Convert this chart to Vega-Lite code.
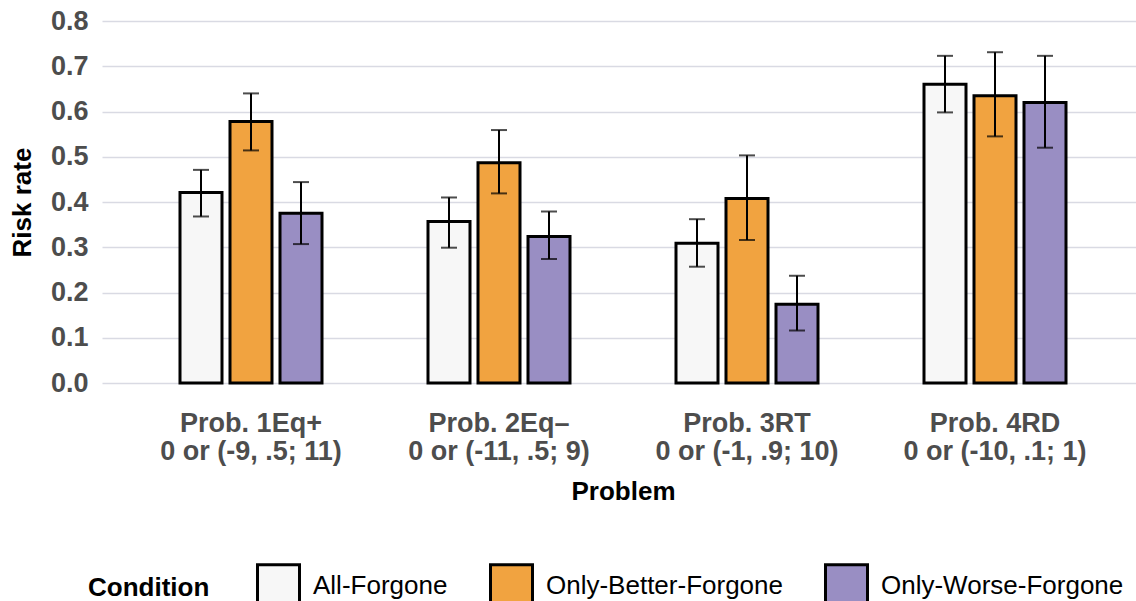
{
  "$schema": "https://vega.github.io/schema/vega-lite/v6.json",
  "width": 1034,
  "height": 362,
  "autosize": {"type": "none"},
  "padding": {"left": 102, "top": 21, "right": 0, "bottom": 218},
  "background": "white",
  "config": {
    "font": "Liberation Sans",
    "view": {"stroke": null},
    "axis": {"labelFont": "Liberation Sans", "titleFont": "Liberation Sans"},
    "legend": {"labelFont": "Liberation Sans", "titleFont": "Liberation Sans"}
  },
  "data": {
    "values": [
      {"Problem": "Prob. 1Eq+\n0 or (-9, .5; 11)", "Condition": "All-Forgone", "rate": 0.421, "lo": 0.368, "hi": 0.471},
      {"Problem": "Prob. 1Eq+\n0 or (-9, .5; 11)", "Condition": "Only-Better-Forgone", "rate": 0.578, "lo": 0.514, "hi": 0.640},
      {"Problem": "Prob. 1Eq+\n0 or (-9, .5; 11)", "Condition": "Only-Worse-Forgone", "rate": 0.375, "lo": 0.307, "hi": 0.444},
      {"Problem": "Prob. 2Eq–\n0 or (-11, .5; 9)", "Condition": "All-Forgone", "rate": 0.357, "lo": 0.299, "hi": 0.410},
      {"Problem": "Prob. 2Eq–\n0 or (-11, .5; 9)", "Condition": "Only-Better-Forgone", "rate": 0.487, "lo": 0.419, "hi": 0.559},
      {"Problem": "Prob. 2Eq–\n0 or (-11, .5; 9)", "Condition": "Only-Worse-Forgone", "rate": 0.324, "lo": 0.274, "hi": 0.379},
      {"Problem": "Prob. 3RT\n0 or (-1, .9; 10)", "Condition": "All-Forgone", "rate": 0.309, "lo": 0.257, "hi": 0.362},
      {"Problem": "Prob. 3RT\n0 or (-1, .9; 10)", "Condition": "Only-Better-Forgone", "rate": 0.408, "lo": 0.316, "hi": 0.503},
      {"Problem": "Prob. 3RT\n0 or (-1, .9; 10)", "Condition": "Only-Worse-Forgone", "rate": 0.174, "lo": 0.116, "hi": 0.237},
      {"Problem": "Prob. 4RD\n0 or (-10, .1; 1)", "Condition": "All-Forgone", "rate": 0.660, "lo": 0.598, "hi": 0.723},
      {"Problem": "Prob. 4RD\n0 or (-10, .1; 1)", "Condition": "Only-Better-Forgone", "rate": 0.635, "lo": 0.545, "hi": 0.731},
      {"Problem": "Prob. 4RD\n0 or (-10, .1; 1)", "Condition": "Only-Worse-Forgone", "rate": 0.620, "lo": 0.520, "hi": 0.723}
    ]
  },
  "encoding": {
    "x": {
      "field": "Problem",
      "type": "nominal",
      "sort": null,
      "scale": {"paddingInner": 0.4274, "paddingOuter": 0.3145, "range": [0, 1042]},
      "axis": {
        "title": "Problem",
        "labelAngle": 0,
        "labelExpr": "split(datum.label, '\\n')",
        "labelFontSize": 27,
        "labelFontWeight": "bold",
        "labelColor": "#4d4d4d",
        "labelLineHeight": 28.5,
        "labelPadding": 27,
        "labelLimit": 0,
        "ticks": false,
        "domain": false,
        "titleFontSize": 26,
        "titleFontWeight": "bold",
        "titleColor": "black",
        "titlePadding": 14
      }
    },
    "xOffset": {
      "field": "Condition",
      "type": "nominal",
      "sort": ["All-Forgone", "Only-Better-Forgone", "Only-Worse-Forgone"],
      "scale": {"paddingInner": 0.16, "paddingOuter": 0}
    }
  },
  "layer": [
    {
      "mark": {"type": "bar", "stroke": "black", "strokeWidth": 3},
      "encoding": {
        "y": {
          "field": "rate",
          "type": "quantitative",
          "scale": {"domain": [0, 0.8], "nice": false},
          "axis": {
            "title": "Risk rate",
            "values": [0, 0.1, 0.2, 0.3, 0.4, 0.5, 0.6, 0.7, 0.8],
            "format": ".1f",
            "labelFontSize": 27,
            "labelFontWeight": "bold",
            "labelColor": "#4d4d4d",
            "labelPadding": 14,
            "ticks": false,
            "domain": false,
            "grid": true,
            "gridColor": "#d9dae3",
            "gridWidth": 1.5,
            "titleFontSize": 26,
            "titleFontWeight": "bold",
            "titleColor": "black",
            "titlePadding": 15
          }
        },
        "fill": {
          "field": "Condition",
          "type": "nominal",
          "scale": {
            "domain": ["All-Forgone", "Only-Better-Forgone", "Only-Worse-Forgone"],
            "range": ["#f7f7f7", "#f1a340", "#998ec3"]
          },
          "legend": {
            "orient": "none",
            "legendX": -14,
            "legendY": 542,
            "direction": "horizontal",
            "title": "Condition",
            "titleOrient": "left",
            "titleFontSize": 26,
            "titleFontWeight": "bold",
            "titleColor": "black",
            "titlePadding": 46,
            "titleBaseline": "middle",
            "labelFontSize": 26,
            "labelColor": "black",
            "labelLimit": 0,
            "labelOffset": 12,
            "columnPadding": 36,
            "symbolType": "square",
            "symbolSize": 1764,
            "symbolStrokeColor": "black",
            "symbolStrokeWidth": 3,
            "padding": 0
          }
        }
      }
    },
    {
      "mark": {"type": "rule", "color": "black", "strokeWidth": 2},
      "encoding": {
        "y": {"field": "lo", "type": "quantitative"},
        "y2": {"field": "hi"}
      }
    },
    {
      "mark": {"type": "tick", "color": "black", "thickness": 2, "size": 16, "orient": "horizontal"},
      "encoding": {
        "y": {"field": "lo", "type": "quantitative"}
      }
    },
    {
      "mark": {"type": "tick", "color": "black", "thickness": 2, "size": 16, "orient": "horizontal"},
      "encoding": {
        "y": {"field": "hi", "type": "quantitative"}
      }
    }
  ]
}
